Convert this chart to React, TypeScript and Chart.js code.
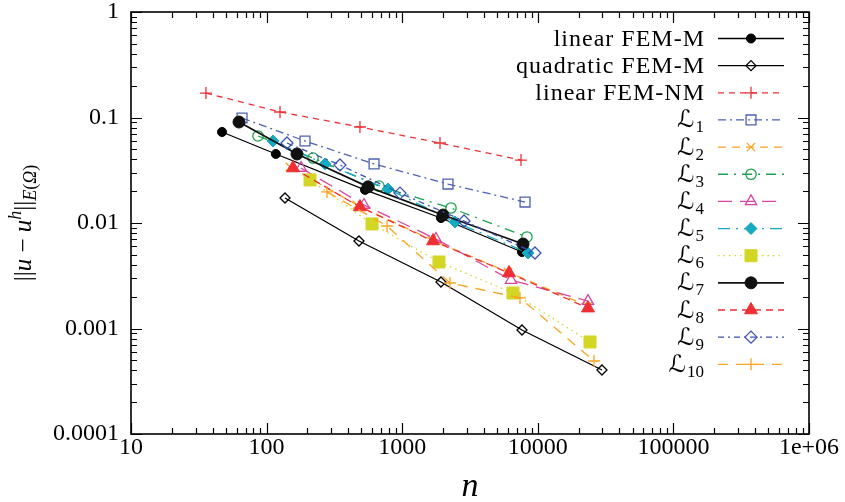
import React, { useEffect, useRef } from 'react';
import { Chart, registerables } from 'chart.js';
import { drawPoint } from 'chart.js/helpers';

Chart.register(...registerables);

// ---- data (n = degrees of freedom, e = energy-norm error) ----
const nLinM = [46.9, 117, 532, 1932, 7645];
const eLinM = [0.0729, 0.0451, 0.0206, 0.01115, 0.00531];
const nQuadM = [136.7, 480, 1932, 7645, 29730];
const eQuadM = [0.01726, 0.00675, 0.00276, 0.000968, 0.000404];
const nLinNM = [35.7, 125.6, 488, 1900, 7520];
const eLinNM = [0.1706, 0.1127, 0.0813, 0.0573, 0.0395];
const nL1 = [65.9, 192, 620, 2177, 8050];
const eL1 = [0.0989, 0.0599, 0.0363, 0.0234, 0.0158];
const nL2 = [148.8, 464, 1659, 6030, 23450];
const eL2 = [0.034, 0.01482, 0.0069, 0.00343, 0.00163];
const nL3 = [86.4, 220, 674, 2290, 8320];
const eL3 = [0.0668, 0.0413, 0.0224, 0.01387, 0.00737];
const nL4 = [179.4, 523, 1775, 6345, 23450];
const eL4 = [0.0332, 0.01482, 0.00705, 0.00288, 0.00182];
const nL5 = [111.5, 270, 786, 2450, 8470];
const eL5 = [0.0599, 0.0363, 0.021, 0.01022, 0.0052];
const nL6 = [209, 599, 1867, 6560, 24260];
const eL6 = [0.0256, 0.0098, 0.00427, 0.00217, 0.000745];
const nL7 = [62.6, 167.5, 560, 2000, 7780];
const eL7 = [0.0906, 0.0451, 0.022, 0.0119, 0.00632];
const nL8 = [156.6, 488, 1687, 6135, 23450];
const eL8 = [0.0332, 0.01418, 0.00675, 0.00336, 0.00156];
const nL9 = [141.4, 347.6, 963, 2857, 9530];
const eL9 = [0.0573, 0.0355, 0.0192, 0.01045, 0.0052];
const nL10 = [278.8, 773, 2250, 7390, 25950];
const eL10 = [0.0197, 0.00937, 0.0027, 0.00195, 0.000492];

const xTickLabels = ['10', '100', '1000', '10000', '100000', '1e+06'];
const yTickLabels = ['0.0001', '0.001', '0.01', '0.1', '1'];

const FONT = '"Liberation Serif", "Times New Roman", serif';

type Series = {
  label: string;
  sub?: string;
  n: number[];
  e: number[];
  color: string;
  dash: number[];
  style: string;
  radius: number;
  filled: boolean;
  width: number;
};

const series: Series[] = [
  { label: 'linear FEM-M', n: nLinM, e: eLinM, color: '#000000', dash: [], style: 'circle', radius: 4.5, filled: true, width: 1.3 },
  { label: 'quadratic FEM-M', n: nQuadM, e: eQuadM, color: '#000000', dash: [], style: 'rectRot', radius: 5, filled: false, width: 1.3 },
  { label: 'linear FEM-NM', n: nLinNM, e: eLinNM, color: '#ec3236', dash: [6, 5], style: 'cross', radius: 6, filled: false, width: 1.3 },
  { label: 'ℒ', sub: '1', n: nL1, e: eL1, color: '#4d60b2', dash: [8, 4, 2, 4], style: 'rect', radius: 7, filled: false, width: 1.3 },
  { label: 'ℒ', sub: '2', n: nL2, e: eL2, color: '#f9a31f', dash: [8, 6], style: 'crossRot', radius: 6, filled: false, width: 1.3 },
  { label: 'ℒ', sub: '3', n: nL3, e: eL3, color: '#1ca24c', dash: [10, 6, 2, 6], style: 'circle', radius: 5.2, filled: false, width: 1.3 },
  { label: 'ℒ', sub: '4', n: nL4, e: eL4, color: '#d6469f', dash: [14, 8], style: 'triangle', radius: 6.5, filled: false, width: 1.3 },
  { label: 'ℒ', sub: '5', n: nL5, e: eL5, color: '#14aabf', dash: [12, 6, 2, 6], style: 'rectRot', radius: 6, filled: true, width: 1.3 },
  { label: 'ℒ', sub: '6', n: nL6, e: eL6, color: '#d4d626', dash: [1.5, 4], style: 'rect', radius: 8.5, filled: true, width: 1.3 },
  { label: 'ℒ', sub: '7', n: nL7, e: eL7, color: '#111111', dash: [], style: 'circle', radius: 6, filled: true, width: 1.8 },
  { label: 'ℒ', sub: '8', n: nL8, e: eL8, color: '#ee2f33', dash: [7, 5], style: 'triangle', radius: 7.5, filled: true, width: 1.3 },
  { label: 'ℒ', sub: '9', n: nL9, e: eL9, color: '#3d51b5', dash: [6, 4, 2, 4], style: 'rectRot', radius: 6, filled: false, width: 1.3 },
  { label: 'ℒ', sub: '10', n: nL10, e: eL10, color: '#f9a31f', dash: [10, 8], style: 'cross', radius: 6, filled: false, width: 1.3 },
];

function decadeIndex(v: number): number | null {
  const ex = Math.log10(v);
  const r = Math.round(ex);
  return Math.abs(ex - r) < 1e-6 ? r : null;
}

const overlayPlugin = {
  id: 'overlay',
  afterDraw(chart: any) {
    const ctx: CanvasRenderingContext2D = chart.ctx;
    const xs = chart.scales.x;
    const ys = chart.scales.y;
    const a = chart.chartArea;
    ctx.save();
    ctx.setLineDash([]);
    ctx.strokeStyle = '#000';
    // ticks (inside, mirrored)
    ctx.lineWidth = 1.2;
    ctx.beginPath();
    for (let k = 1; k <= 6; k++) {
      for (let m = 1; m <= 9; m++) {
        const v = m * Math.pow(10, k);
        if (v > 1e6 + 1) break;
        const px = Math.round(xs.getPixelForValue(v)) + 0.5;
        const len = m === 1 ? 11 : 6;
        ctx.moveTo(px, a.bottom); ctx.lineTo(px, a.bottom - len);
        ctx.moveTo(px, a.top); ctx.lineTo(px, a.top + len);
      }
    }
    for (let k = -4; k <= 0; k++) {
      for (let m = 1; m <= 9; m++) {
        const v = m * Math.pow(10, k);
        if (v > 1.0001) break;
        const py = Math.round(ys.getPixelForValue(v)) + 0.5;
        const len = m === 1 ? 11 : 6;
        ctx.moveTo(a.left, py); ctx.lineTo(a.left + len, py);
        ctx.moveTo(a.right, py); ctx.lineTo(a.right - len, py);
      }
    }
    ctx.stroke();
    // border box
    ctx.lineWidth = 1.6;
    ctx.strokeRect(a.left, a.top, a.right - a.left, a.bottom - a.top);

    // legend
    const textRight = 704;
    const lx0 = 718, lx1 = 784, mx = 751;
    ctx.fillStyle = '#000';
    series.forEach((s, i) => {
      const y = 38 + i * 27.15;
      ctx.fillStyle = '#000';
      ctx.textBaseline = 'alphabetic';
      if (!s.sub) {
        ctx.font = `24px ${FONT}`;
        (ctx as any).letterSpacing = '1px';
        ctx.textAlign = 'right';
        ctx.fillText(s.label, textRight + 1, y + 8);
        (ctx as any).letterSpacing = '0px';
      } else {
        ctx.font = `17px ${FONT}`;
        const sw = ctx.measureText(s.sub).width;
        ctx.textAlign = 'left';
        ctx.fillText(s.sub, textRight - sw, y + 13);
        ctx.font = `24px "DejaVu Serif", "DejaVu Sans", ${FONT}`;
        ctx.textAlign = 'right';
        ctx.fillText(s.label, textRight - sw - 1, y + 8);
      }
      // sample line
      ctx.strokeStyle = s.color;
      ctx.lineWidth = s.width;
      ctx.setLineDash(s.dash);
      ctx.beginPath();
      ctx.moveTo(lx0, y + 0.5);
      ctx.lineTo(lx1, y + 0.5);
      ctx.stroke();
      ctx.setLineDash([]);
      ctx.fillStyle = s.filled ? s.color : 'rgba(0,0,0,0)';
      ctx.strokeStyle = s.color;
      ctx.lineWidth = s.filled ? 1 : 1.3;
      drawPoint(ctx, { pointStyle: s.style as any, radius: s.radius, rotation: 0, borderWidth: ctx.lineWidth } as any, mx, y + 0.5);
    });

    // x title
    ctx.fillStyle = '#000';
    ctx.font = `italic 34px ${FONT}`;
    ctx.textAlign = 'center';
    ctx.textBaseline = 'alphabetic';
    ctx.fillText('n', (a.left + a.right) / 2, 496);

    // y title (rotated)
    const runs = [
      { t: '||', f: `25px ${FONT}`, dy: 0 },
      { t: 'u', f: `italic 25px ${FONT}`, dy: 0 },
      { t: ' − ', f: `25px ${FONT}`, dy: 0 },
      { t: 'u', f: `italic 25px ${FONT}`, dy: 0 },
      { t: 'h', f: `italic 18px ${FONT}`, dy: -10 },
      { t: '||', f: `25px ${FONT}`, dy: 0 },
      { t: 'E', f: `italic 18px ${FONT}`, dy: 5 },
      { t: '(', f: `18px ${FONT}`, dy: 5 },
      { t: 'Ω', f: `italic 18px ${FONT}`, dy: 5 },
      { t: ')', f: `18px ${FONT}`, dy: 5 },
    ];
    let total = 0;
    const widths = runs.map((r) => { ctx.font = r.f; const w = ctx.measureText(r.t).width; total += w; return w; });
    ctx.save();
    ctx.translate(31, 223);
    ctx.rotate(-Math.PI / 2);
    ctx.textAlign = 'left';
    let x = -total / 2;
    runs.forEach((r, i) => {
      ctx.font = r.f;
      ctx.fillText(r.t, x, r.dy);
      x += widths[i];
    });
    ctx.restore();
    ctx.restore();
  },
};

export default function App() {
  const ref = useRef<HTMLCanvasElement>(null);
  useEffect(() => {
    const datasets = series.map((s, i) => ({
      label: s.sub ? s.label + s.sub : s.label,
      data: s.n.map((n, j) => ({ x: n, y: s.e[j] })),
      borderColor: s.color,
      borderWidth: s.width,
      borderDash: s.dash,
      pointStyle: s.style,
      pointRadius: s.radius,
      pointHoverRadius: s.radius,
      pointBackgroundColor: s.filled ? s.color : 'rgba(0,0,0,0)',
      pointBorderColor: s.color,
      pointBorderWidth: s.filled ? 1 : 1.3,
      fill: false,
      tension: 0,
      showLine: true,
      order: series.length - i,
    }));
    const tickFont = { family: FONT, size: 24, lineHeight: 1 };
    const chart = new Chart(ref.current as HTMLCanvasElement, {
      type: 'line',
      data: { datasets },
      options: {
        animation: false,
        responsive: false,
        devicePixelRatio: 1,
        layout: { padding: { left: 0, right: 36, top: 12, bottom: 0 } },
        plugins: { legend: { display: false }, tooltip: { enabled: false } },
        scales: {
          x: {
            type: 'logarithmic',
            min: 10,
            max: 1e6,
            grid: { display: false, drawTicks: false, tickLength: 0 },
            border: { display: false },
            ticks: {
              autoSkip: false,
              maxRotation: 0,
              minRotation: 0,
              padding: 2,
              color: '#000',
              font: tickFont,
              callback: (v: any) => {
                const d = decadeIndex(Number(v));
                return d === null ? '' : xTickLabels[d - 1] ?? '';
              },
            },
            afterFit: (s: any) => { s.height = 68; s.paddingLeft = 0; s.paddingRight = 0; },
          },
          y: {
            type: 'logarithmic',
            min: 1e-4,
            max: 1,
            grid: { display: false, drawTicks: false, tickLength: 0 },
            border: { display: false },
            ticks: {
              autoSkip: false,
              padding: 12,
              color: '#000',
              font: tickFont,
              callback: (v: any) => {
                const d = decadeIndex(Number(v));
                return d === null ? '' : yTickLabels[d + 4] ?? '';
              },
            },
            afterFit: (s: any) => { s.width = 131; s.paddingTop = 0; s.paddingBottom = 0; },
          },
        },
      } as any,
      plugins: [overlayPlugin],
    });
    return () => chart.destroy();
  }, []);
  return (
    <div style={{ position: 'absolute', left: 0, top: 0, width: 845, height: 502, background: '#fff' }}>
      <canvas ref={ref} width={845} height={502} style={{ display: 'block' }} />
    </div>
  );
}
